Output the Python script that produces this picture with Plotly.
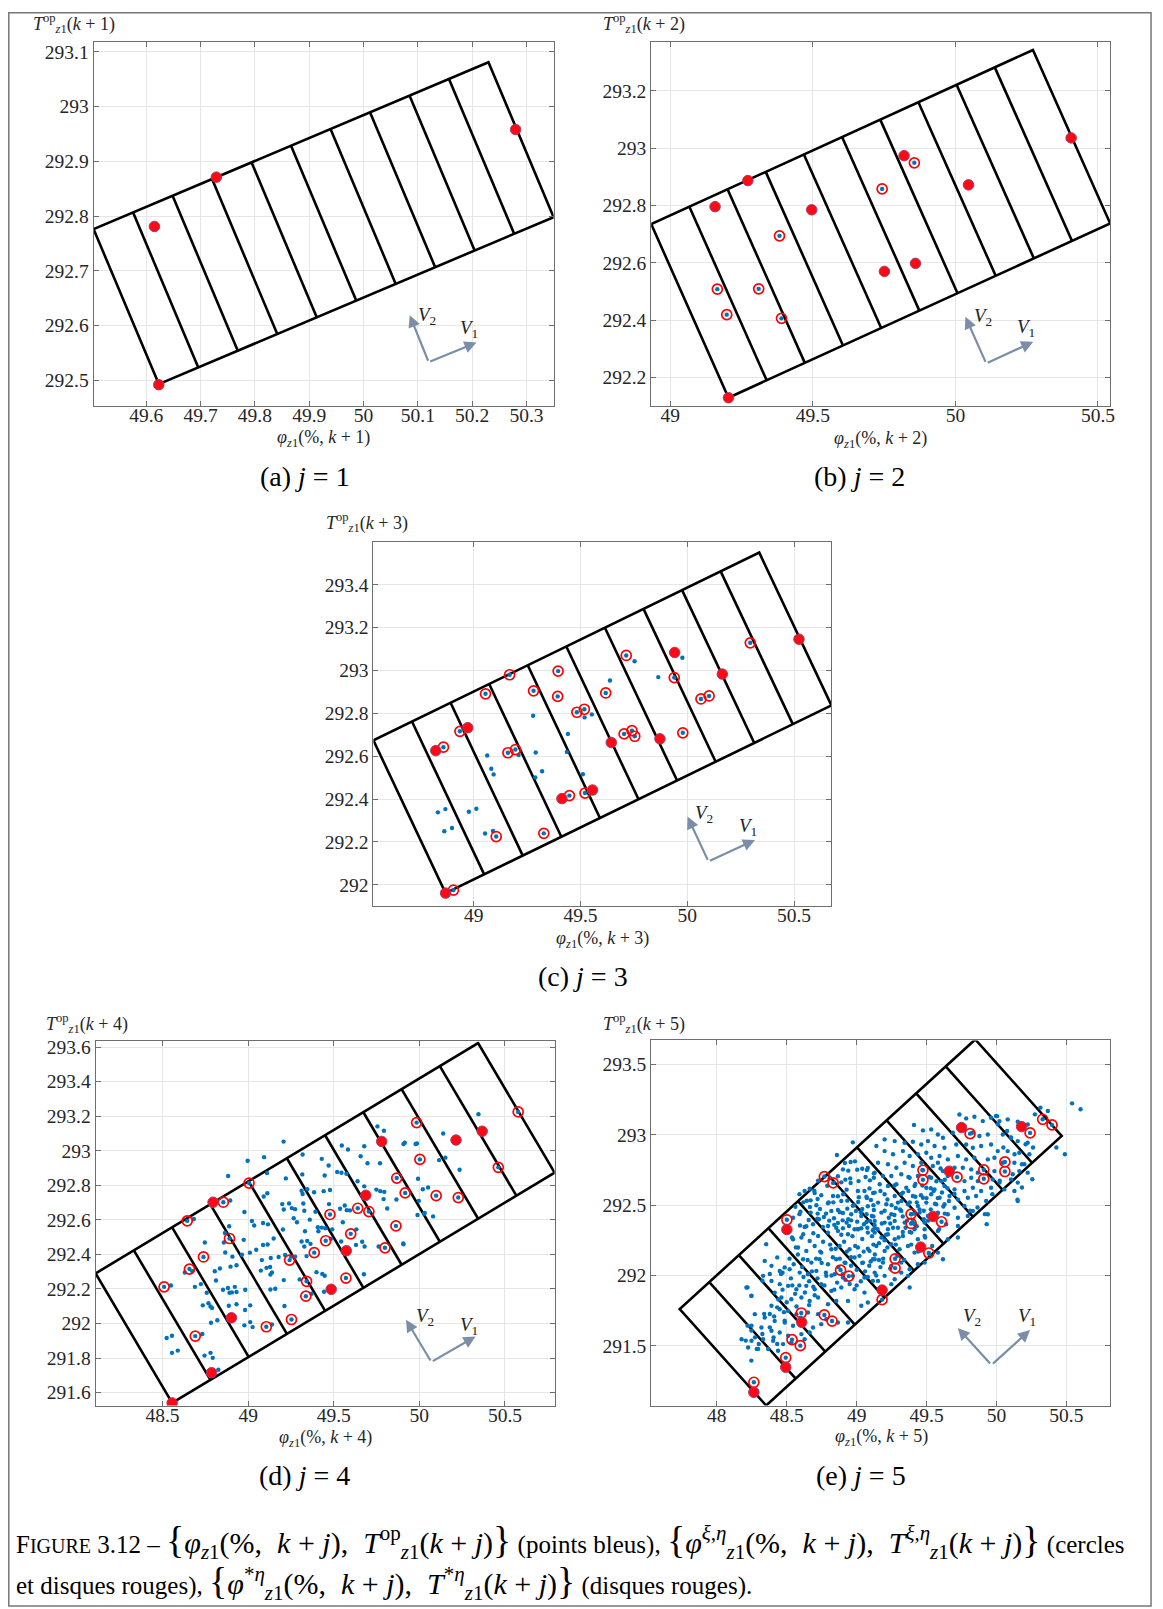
import plotly.graph_objects as go

W, H = 1163, 1609
OFF = 8                      # the page body adds an 8 px margin
FW, FH = W - OFF, H - OFF
N_STRIPS = 10
SERIF = "Liberation Serif, DejaVu Serif, serif"

# ---------------- (a) j = 1 ----------------
a_xrange = [49.503, 50.35]
a_yrange = [292.453, 293.118]
a_xticks = [49.6, 49.7, 49.8, 49.9, 50.0, 50.1, 50.2, 50.3]
a_xlabels = ["49.6", "49.7", "49.8", "49.9", "50", "50.1", "50.2", "50.3"]
a_yticks = [292.5, 292.6, 292.7, 292.8, 292.9, 293.0, 293.1]
a_ylabels = ["292.5", "292.6", "292.7", "292.8", "292.9", "293", "293.1"]
a_box_x = [49.623, 50.350, 49.503]      # bottom corner, end of long side, end of short side
a_box_y = [292.493, 292.798, 292.776]
a_discs = [(49.615, 292.781), (49.729, 292.871), (50.280, 292.958), (49.623, 292.492)]
a_rings = []
a_dots = []
a_arrow_x = [50.120, 50.208, 50.085]    # origin, V1 head, V2 head
a_arrow_y = [292.533, 292.569, 292.619]
a_vlab_x = [50.195, 50.117]             # V1, V2 label centres
a_vlab_y = [292.593, 292.617]

# ---------------- (b) j = 2 ----------------
b_xrange = [48.933, 50.543]
b_yrange = [292.10, 293.371]
b_xticks = [49.0, 49.5, 50.0, 50.5]
b_xlabels = ["49", "49.5", "50", "50.5"]
b_yticks = [292.2, 292.4, 292.6, 292.8, 293.0, 293.2]
b_ylabels = ["292.2", "292.4", "292.6", "292.8", "293", "293.2"]
b_box_x = [49.204, 50.543, 48.933]
b_box_y = [292.129, 292.737, 292.735]
b_discs = [(49.157, 292.796), (49.272, 292.887), (49.496, 292.785), (49.820, 292.974),
           (50.046, 292.872), (50.406, 293.036), (49.751, 292.570), (49.860, 292.598),
           (49.204, 292.129)]
b_rings = [(49.856, 292.949), (49.743, 292.858), (49.383, 292.694), (49.165, 292.508),
           (49.310, 292.509), (49.198, 292.419), (49.390, 292.406)]
b_dots = []
b_arrow_x = [50.108, 50.273, 50.035]
b_arrow_y = [292.249, 292.324, 292.412]
b_vlab_x = [50.249, 50.097]
b_vlab_y = [292.371, 292.412]

# ---------------- (c) j = 3 ----------------
c_xrange = [48.530, 50.675]
c_yrange = [291.902, 293.601]
c_xticks = [49.0, 49.5, 50.0, 50.5]
c_xlabels = ["49", "49.5", "50", "50.5"]
c_yticks = [292.0, 292.2, 292.4, 292.6, 292.8, 293.0, 293.2, 293.4]
c_ylabels = ["292", "292.2", "292.4", "292.6", "292.8", "293", "293.2", "293.4"]
c_box_x = [48.868, 50.675, 48.530]
c_box_y = [291.961, 292.837, 292.674]
c_discs = [(48.822, 292.626), (48.972, 292.733), (49.413, 292.402), (49.556, 292.442),
           (49.644, 292.664), (49.872, 292.681), (49.941, 293.084), (50.164, 292.983),
           (50.523, 293.146), (48.868, 291.961)]
c_rings = [(48.858, 292.642), (48.935, 292.716), (48.905, 291.975), (49.055, 292.891),
           (49.168, 292.980), (49.160, 292.616), (49.195, 292.631), (49.105, 292.225),
           (49.280, 292.905), (49.328, 292.240), (49.395, 292.997), (49.393, 292.879),
           (49.483, 292.805), (49.518, 292.819), (49.448, 292.416), (49.521, 292.428),
           (49.618, 292.895), (49.714, 293.070), (49.704, 292.704), (49.741, 292.719),
           (49.754, 292.693), (49.939, 292.967), (49.979, 292.709), (50.064, 292.867),
           (50.102, 292.881), (50.295, 293.129)]
c_dots = [(48.832, 292.338), (48.867, 292.353), (48.862, 292.250), (48.898, 292.265),
          (48.977, 292.341), (49.012, 292.355), (49.053, 292.239), (49.090, 292.251),
          (49.063, 292.603), (49.082, 292.541), (49.093, 292.515), (49.210, 292.605),
          (49.278, 292.789), (49.290, 292.617), (49.320, 292.530), (49.288, 292.501),
          (49.441, 292.704), (49.436, 292.620), (49.511, 292.516), (49.519, 292.781),
          (49.553, 292.795), (49.638, 292.953), (49.753, 293.043), (49.864, 292.969),
          (49.977, 293.059)]
c_arrow_x = [50.099, 50.317, 50.001]
c_arrow_y = [292.109, 292.209, 292.318]
c_vlab_x = [50.282, 50.079]
c_vlab_y = [292.271, 292.329]

# ---------------- (d) j = 4 ----------------
d_xrange = [48.109, 50.790]
d_yrange = [291.525, 293.633]
d_xticks = [48.5, 49.0, 49.5, 50.0, 50.5]
d_xlabels = ["48.5", "49", "49.5", "50", "50.5"]
d_yticks = [291.6, 291.8, 292.0, 292.2, 292.4, 292.6, 292.8, 293.0, 293.2, 293.4, 293.6]
d_ylabels = ["291.6", "291.8", "292", "292.2", "292.4", "292.6", "292.8", "293",
             "293.2", "293.4", "293.6"]
d_box_x = [48.556, 50.790, 48.109]
d_box_y = [291.540, 292.873, 292.290]
d_discs = [(48.795, 292.702), (48.902, 292.033), (48.786, 291.715), (48.556, 291.540),
           (49.485, 292.198), (49.573, 292.421), (49.687, 292.742), (49.780, 293.054),
           (50.214, 293.062), (50.367, 293.113)]
d_rings = [(48.509, 292.212), (48.657, 292.315), (48.691, 291.927), (48.644, 292.594),
           (48.739, 292.385), (48.855, 292.702), (48.891, 292.492), (49.005, 292.813),
           (49.106, 291.981), (49.253, 292.023), (49.242, 292.367), (49.337, 292.158),
           (49.341, 292.244), (49.386, 292.410), (49.453, 292.479), (49.478, 292.631),
           (49.571, 292.263), (49.599, 292.519), (49.640, 292.667), (49.705, 292.648),
           (49.799, 292.438), (49.863, 292.565), (49.868, 292.842), (49.917, 292.756),
           (49.984, 293.163), (50.003, 292.950), (50.098, 292.740), (50.227, 292.729),
           (50.461, 292.904), (50.577, 293.225)]
d_dots = [
    (49.207, 293.053), (49.093, 292.963), (48.997, 292.942), (48.883, 292.854), (49.110, 292.871),
    (49.220, 292.840), (49.091, 292.735), (49.112, 292.754), (48.895, 292.712), (49.199, 292.691),
    (49.239, 292.695), (49.208, 292.660), (49.255, 292.668), (48.978, 292.645), (48.683, 292.605),
    (49.022, 292.593), (49.035, 292.567), (49.087, 292.582), (49.116, 292.574), (48.889, 292.563),
    (48.864, 292.524), (48.974, 292.484), (49.203, 292.544), (48.747, 292.469), (48.858, 292.469),
    (49.149, 292.492), (49.114, 292.457), (49.087, 292.454), (49.047, 292.427), (48.866, 292.411),
    (48.964, 292.398), (49.010, 292.410), (48.908, 292.387), (49.080, 292.367), (49.132, 292.379),
    (49.178, 292.385), (49.216, 292.396), (49.251, 292.387), (49.107, 292.322), (49.128, 292.327),
    (49.139, 292.295), (49.130, 292.283), (49.074, 292.306), (48.932, 292.337), (48.897, 292.329),
    (48.835, 292.318), (48.805, 292.302), (48.630, 292.295), (48.674, 292.302), (48.724, 292.228),
    (48.689, 292.212), (48.758, 292.178), (48.853, 292.195), (48.882, 292.205), (48.891, 292.178),
    (48.905, 292.180), (48.922, 292.212), (48.932, 292.182), (48.983, 292.195), (49.130, 292.197),
    (49.158, 292.201), (49.208, 292.251), (48.735, 292.105), (48.768, 292.117), (48.780, 292.098),
    (48.789, 292.090), (48.887, 292.103), (48.932, 292.111), (49.012, 292.105), (48.982, 292.078),
    (49.212, 292.101), (48.783, 292.004), (48.820, 292.019), (48.978, 291.989), (49.012, 292.008),
    (49.026, 291.979), (49.139, 291.994), (48.524, 291.916), (48.555, 291.929), (48.732, 291.939),
    (48.555, 291.830), (48.589, 291.843), (48.745, 291.814), (48.780, 291.830), (48.793, 291.801),
    (48.826, 291.732), (48.549, 292.220), (48.812, 292.249),
    (49.755, 293.141), (49.793, 293.116), (49.547, 293.030), (49.583, 293.007), (49.678, 293.026),
    (49.907, 293.039), (49.978, 293.039), (49.318, 292.978), (49.430, 292.953), (49.470, 292.915),
    (49.657, 292.968), (49.697, 292.928), (49.770, 292.928), (49.316, 292.863), (49.447, 292.857),
    (49.520, 292.877), (49.545, 292.873), (49.574, 292.867), (49.639, 292.823), (49.678, 292.794),
    (49.749, 292.775), (49.772, 292.766), (49.795, 292.762), (50.020, 292.777), (49.312, 292.769),
    (49.345, 292.777), (49.318, 292.750), (49.385, 292.760), (49.441, 292.766), (49.478, 292.773),
    (49.791, 292.720), (49.866, 292.718), (49.997, 292.710), (49.322, 292.695), (49.274, 292.662),
    (49.328, 292.653), (49.393, 292.647), (49.472, 292.691), (49.537, 292.664), (49.564, 292.683),
    (49.576, 292.656), (49.595, 292.655), (49.812, 292.666), (49.989, 292.628), (50.028, 292.635),
    (49.266, 292.609), (49.285, 292.586), (49.360, 292.601), (49.553, 292.586), (49.632, 292.545),
    (49.332, 292.534), (49.407, 292.557), (49.430, 292.555), (49.410, 292.534), (49.491, 292.545),
    (49.451, 292.551), (49.312, 292.475), (49.345, 292.478), (49.328, 292.446), (49.364, 292.461),
    (49.483, 292.490), (49.543, 292.475), (49.630, 292.455), (49.666, 292.473), (49.680, 292.446),
    (49.762, 292.446), (49.907, 292.459), (49.274, 292.387), (49.341, 292.390), (49.399, 292.297),
    (49.433, 292.287), (49.447, 292.276), (49.676, 292.285), (49.301, 292.255), (49.443, 292.184),
    (49.468, 292.201), (49.370, 292.172),
    (50.345, 293.212), (50.139, 293.100), (50.115, 292.946), (50.152, 292.960), (50.235, 292.890),
    (50.051, 292.787), (49.915, 293.046), (49.986, 293.042), (49.906, 292.463), (50.031, 292.640),
    (49.992, 292.838), (50.080, 292.620)]
d_arrow_x = [50.070, 50.328, 49.922]
d_arrow_y = [291.777, 291.925, 292.021]
d_vlab_x = [50.291, 50.033]
d_vlab_y = [291.988, 292.037]

# ---------------- (e) j = 5 ----------------
e_xrange = [47.531, 50.813]
e_yrange = [291.077, 293.670]
e_xticks = [48.0, 48.5, 49.0, 49.5, 50.0, 50.5]
e_xlabels = ["48", "48.5", "49", "49.5", "50", "50.5"]
e_yticks = [291.5, 292.0, 292.5, 293.0, 293.5]
e_ylabels = ["291.5", "292", "292.5", "293", "293.5"]
e_box_x = [48.353, 50.466, 47.735]
e_box_y = [291.077, 292.992, 291.762]
e_discs = [(48.265, 291.171), (48.493, 291.349), (48.607, 291.668), (48.501, 292.327),
           (49.182, 291.897), (49.458, 292.202), (49.546, 292.420), (49.662, 292.741),
           (49.750, 293.051), (50.179, 293.058)]
e_rings = [(48.265, 291.242), (48.493, 291.417), (48.538, 291.545), (48.597, 291.502),
           (48.604, 291.734), (48.769, 291.720), (48.824, 291.677), (48.501, 292.396),
           (48.769, 292.703), (48.832, 292.658), (48.885, 292.039), (48.944, 291.996),
           (49.182, 291.829), (49.275, 292.119), (49.275, 292.053), (49.389, 292.436),
           (49.389, 292.370), (49.474, 292.748), (49.474, 292.680), (49.607, 292.382),
           (49.516, 292.160), (49.718, 292.699), (49.811, 293.008), (49.909, 292.751),
           (49.909, 292.687), (50.060, 292.807), (50.060, 292.739), (50.240, 293.013),
           (50.330, 293.110), (50.397, 293.070)]
e_dots = [
    # upper left part of the cloud
    (48.973, 292.946), (48.859, 292.856), (48.916, 292.799), (48.957, 292.806), (48.988, 292.811),
    (48.902, 292.754), (48.940, 292.745), (49.004, 292.752), (49.040, 292.759), (49.073, 292.749),
    (49.080, 292.764), (48.954, 292.690), (48.866, 292.705), (48.807, 292.693), (48.890, 292.662),
    (48.919, 292.681), (48.957, 292.657), (49.014, 292.671), (49.064, 292.700), (49.095, 292.676),
    (49.123, 292.695), (49.123, 292.726), (48.664, 292.617), (48.628, 292.600), (48.700, 292.586),
    (48.747, 292.570), (48.790, 292.638), (48.831, 292.565), (48.866, 292.563), (48.928, 292.610),
    (48.904, 292.577), (49.009, 292.600), (49.056, 292.600), (49.092, 292.619), (49.118, 292.586),
    (49.016, 292.556), (49.073, 292.551), (49.102, 292.537), (48.619, 292.520), (48.671, 292.534),
    (48.721, 292.544), (48.562, 292.489), (48.666, 292.487), (48.712, 292.499), (48.738, 292.473),
    (48.795, 292.513), (48.833, 292.520), (48.890, 292.530), (48.933, 292.532), (48.973, 292.496),
    (49.011, 292.522), (49.040, 292.473), (49.080, 292.492), (49.123, 292.466), (48.598, 292.454),
    (48.671, 292.447), (48.721, 292.440), (48.781, 292.440), (48.819, 292.459), (48.866, 292.466),
    (48.902, 292.444), (48.933, 292.475), (48.961, 292.435), (48.995, 292.459), (49.033, 292.423),
    (49.071, 292.435), (49.109, 292.423), (48.545, 292.411), (48.657, 292.395), (48.719, 292.404),
    (48.766, 292.416), (48.804, 292.390), (48.838, 292.407), (48.866, 292.374), (48.900, 292.392),
    (48.928, 292.376), (48.961, 292.392), (49.004, 292.383), (49.052, 292.364), (49.095, 292.388),
    (49.128, 292.359), (48.595, 292.355), (48.628, 292.345), (48.688, 292.364), (48.759, 292.345),
    (48.795, 292.352), (48.854, 292.340), (48.902, 292.336), (48.945, 292.352), (48.985, 292.329),
    (49.033, 292.336), (49.076, 292.340), (49.116, 292.322),
    # upper right part
    (49.735, 293.144), (49.783, 293.116), (49.842, 293.128), (49.902, 293.097), (49.961, 293.121),
    (50.004, 293.132), (50.021, 293.097), (50.080, 293.109), (50.152, 293.092), (50.223, 293.073),
    (49.410, 293.069), (49.474, 293.031), (49.533, 293.038), (49.581, 293.002), (49.617, 292.979),
    (49.688, 293.014), (49.826, 293.014), (49.878, 292.991), (49.938, 293.002), (50.045, 293.002),
    (50.104, 292.979), (50.152, 292.955), (50.223, 292.943), (49.200, 292.967), (49.272, 292.955),
    (49.343, 292.943), (49.402, 292.950), (49.462, 292.931), (49.510, 292.955), (49.557, 292.920),
    (49.628, 292.908), (49.712, 292.931), (49.783, 292.931), (49.831, 292.908), (49.890, 292.920),
    (49.961, 292.931), (50.009, 292.884), (50.080, 292.884), (50.163, 292.872), (50.235, 292.861),
    (49.141, 292.920), (49.200, 292.884), (49.260, 292.861), (49.331, 292.884), (49.379, 292.849),
    (49.438, 292.861), (49.498, 292.872), (49.533, 292.837), (49.593, 292.849), (49.652, 292.825),
    (49.724, 292.849), (49.783, 292.825), (49.842, 292.837), (49.938, 292.825), (49.985, 292.837),
    (50.045, 292.801), (50.128, 292.801), (50.199, 292.790), (49.153, 292.801), (49.224, 292.790),
    (49.284, 292.766), (49.343, 292.801), (49.402, 292.778), (49.462, 292.801), (49.545, 292.778),
    (49.581, 292.801), (49.617, 292.742), (49.700, 292.766), (49.759, 292.766), (49.819, 292.754),
    (49.866, 292.731), (49.985, 292.742), (50.163, 292.742), (50.223, 292.731), (49.129, 292.731),
    (49.188, 292.707), (49.248, 292.707), (49.319, 292.719), (49.379, 292.695), (49.438, 292.707),
    (49.533, 292.695), (49.605, 292.671), (49.652, 292.707), (49.771, 292.671), (49.819, 292.695),
    (49.866, 292.671), (49.973, 292.683), (50.021, 292.660), (50.104, 292.683), (50.152, 292.660),
    (49.165, 292.648), (49.224, 292.636), (49.284, 292.648), (49.355, 292.624), (49.414, 292.636),
    (49.498, 292.624), (49.557, 292.612), (49.628, 292.636), (49.700, 292.612), (49.771, 292.600),
    (49.831, 292.624), (49.890, 292.600), (49.961, 292.624), (50.056, 292.612), (50.128, 292.600),
    (49.129, 292.589), (49.200, 292.577), (49.272, 292.565), (49.331, 292.589), (49.402, 292.565),
    (49.474, 292.553), (49.533, 292.577), (49.593, 292.553), (49.664, 292.565), (49.724, 292.541),
    (49.795, 292.553), (49.854, 292.565), (49.926, 292.530), (49.153, 292.518), (49.212, 292.506),
    (49.295, 292.518), (49.367, 292.506), (49.438, 292.494), (49.498, 292.518), (49.569, 292.506),
    (49.628, 292.506), (49.700, 292.482), (49.771, 292.494), (49.831, 292.459), (49.938, 292.435),
    (50.152, 292.530), (49.177, 292.447), (49.248, 292.435), (49.319, 292.459), (49.391, 292.435),
    (49.450, 292.447), (49.510, 292.423), (49.581, 292.447), (49.652, 292.435), (49.724, 292.411),
    (49.795, 292.423), (49.129, 292.388), (49.200, 292.376), (49.272, 292.388), (49.343, 292.376),
    (49.414, 292.364), (49.486, 292.376), (49.640, 292.364), (49.724, 292.352), (49.129, 292.340),
    (49.224, 292.329), (49.295, 292.340), (49.414, 292.329), (49.486, 292.329),
    # lower left part
    (48.545, 292.258), (48.605, 292.270), (48.664, 292.246), (48.724, 292.281), (48.795, 292.305),
    (48.866, 292.317), (48.938, 292.293), (49.009, 292.329), (49.080, 292.305), (48.581, 292.199),
    (48.640, 292.175), (48.700, 292.210), (48.747, 292.163), (48.819, 292.187), (48.878, 292.210),
    (48.949, 292.187), (49.009, 292.199), (49.092, 292.175), (48.617, 292.116), (48.676, 292.092),
    (48.735, 292.116), (48.795, 292.080), (48.854, 292.116), (48.914, 292.092), (48.985, 292.128),
    (49.045, 292.092), (49.116, 292.116), (48.343, 292.104), (48.391, 292.069), (48.450, 292.033),
    (48.521, 292.045), (48.593, 292.021), (48.652, 292.009), (48.712, 292.033), (48.783, 291.998),
    (48.842, 292.009), (48.902, 291.986), (48.973, 291.998), (49.056, 291.986), (49.116, 291.962),
    (48.331, 291.998), (48.391, 291.962), (48.450, 291.939), (48.510, 291.927), (48.569, 291.903),
    (48.640, 291.927), (48.700, 291.903), (48.747, 291.939), (48.819, 291.891), (48.890, 291.915),
    (48.985, 291.903), (49.056, 291.879), (48.212, 291.915), (48.248, 291.856), (48.414, 291.879),
    (48.462, 291.844), (48.533, 291.832), (48.605, 291.844), (48.664, 291.820), (48.724, 291.844),
    (48.795, 291.797), (48.854, 291.820), (48.938, 291.820), (49.033, 291.785), (49.080, 291.809),
    (48.391, 291.785), (48.450, 291.761), (48.510, 291.749), (48.569, 291.726), (48.652, 291.738),
    (48.724, 291.726), (48.783, 291.690), (48.866, 291.667), (48.938, 291.667), (48.272, 291.726),
    (48.343, 291.702), (48.414, 291.678), (48.486, 291.667), (48.545, 291.643), (48.617, 291.643),
    (48.688, 291.631), (48.747, 291.655), (48.248, 291.643), (48.319, 291.631), (48.391, 291.608),
    (48.450, 291.596), (48.510, 291.572), (48.605, 291.584), (48.664, 291.596), (48.177, 291.548),
    (48.248, 291.537), (48.331, 291.548), (48.403, 291.537), (48.474, 291.513), (48.533, 291.525),
    (48.628, 291.548), (48.224, 291.489), (48.295, 291.478), (48.367, 291.478), (48.438, 291.466),
    # lower right part
    (49.129, 292.305), (49.177, 292.270), (49.224, 292.293), (49.272, 292.258), (49.331, 292.281),
    (49.391, 292.305), (49.438, 292.258), (49.486, 292.281), (49.581, 292.317), (49.652, 292.258),
    (49.724, 292.270), (49.141, 292.210), (49.200, 292.175), (49.248, 292.222), (49.307, 292.187),
    (49.367, 292.210), (49.414, 292.163), (49.521, 292.151), (49.581, 292.163), (49.617, 292.116),
    (49.129, 292.116), (49.188, 292.092), (49.248, 292.069), (49.319, 292.092), (49.379, 292.045),
    (49.438, 292.080), (49.486, 292.092), (49.129, 292.021), (49.200, 291.998), (49.272, 291.974),
    (49.319, 292.021), (49.367, 291.998), (49.248, 291.939), (49.379, 291.915), (49.153, 291.962),
    # far right, outside the box
    (50.540, 293.223), (50.601, 293.181), (50.489, 292.862), (50.256, 292.684), (50.150, 292.538),
    (50.049, 292.909), (50.102, 292.980), (50.129, 292.862), (50.182, 292.791), (50.208, 292.933),
    (50.275, 293.145), (50.314, 293.193), (50.367, 293.169), (49.996, 293.134), (50.010, 293.074),
    (50.076, 293.027), (49.917, 292.436), (49.930, 292.365), (50.261, 292.909), (50.428, 292.909),
    (49.970, 292.578), (49.864, 292.483), (49.811, 292.460), (50.023, 292.673), (50.116, 292.720),
    (50.182, 292.625),
    # bottom left tail
    (48.220, 291.916), (48.247, 291.857), (48.220, 291.644), (48.247, 291.609), (48.273, 291.561),
    (48.300, 291.514), (48.286, 291.479), (48.247, 291.396), (48.326, 291.585), (48.379, 291.632),
    (48.406, 291.561), (48.432, 291.514), (48.207, 291.538), (48.379, 291.727), (48.432, 291.774),
    (48.485, 291.680), (48.339, 291.727), (48.379, 292.011), (48.326, 291.963), (48.353, 292.223),
    (48.432, 292.129), (48.485, 292.058), (48.459, 292.011), (48.591, 292.578), (48.644, 292.531),
    (48.697, 292.602), (48.724, 292.673), (48.591, 292.436), (48.538, 292.271), (48.565, 292.200),
    (48.618, 292.294),
    # dense core
    (48.78, 292.02), (48.83, 292.13), (48.87, 292.06), (48.91, 292.24), (48.93, 292.17),
    (48.96, 292.07), (48.99, 292.21), (49.02, 292.14), (49.04, 292.26), (49.06, 292.03),
    (49.08, 292.19), (49.11, 292.28), (49.13, 292.15), (49.16, 292.23), (49.18, 292.37),
    (49.21, 292.29), (49.23, 292.41), (49.26, 292.34), (49.28, 292.22), (49.31, 292.47),
    (49.33, 292.31), (49.36, 292.39), (49.38, 292.52), (49.41, 292.44), (49.43, 292.35),
    (49.46, 292.57), (49.48, 292.46), (49.51, 292.39), (49.53, 292.62), (49.56, 292.51),
    (49.58, 292.44), (49.61, 292.59), (49.63, 292.68), (49.66, 292.53), (48.72, 291.98),
    (48.75, 292.09), (48.68, 292.03), (48.63, 291.88), (48.66, 291.96), (48.59, 291.93),
    (48.61, 292.06), (48.56, 291.87), (48.53, 291.98), (48.50, 291.81), (48.47, 291.90),
    (48.86, 291.95), (48.90, 292.01), (48.95, 291.94), (49.00, 292.04), (49.03, 291.96),
    (49.09, 292.07), (49.14, 292.00), (49.19, 292.12), (49.24, 292.05), (49.29, 292.14),
    (49.34, 292.11), (49.39, 292.22), (49.44, 292.17), (49.49, 292.27), (49.54, 292.21),
    (49.59, 292.33), (48.84, 292.36), (48.88, 292.45), (48.94, 292.40), (48.98, 292.50),
    (49.03, 292.45), (49.07, 292.56), (49.12, 292.50), (49.17, 292.60), (49.22, 292.54),
    (49.27, 292.64), (49.32, 292.58), (49.37, 292.70), (49.42, 292.65), (49.47, 292.75),
    (48.80, 292.52), (48.73, 292.40), (48.69, 292.30), (48.64, 292.35), (48.58, 292.15),
    (48.55, 292.08),
    (48.71, 292.12), (48.76, 292.24), (48.82, 292.00), (48.85, 292.19), (48.89, 292.29),
    (48.92, 292.09), (48.97, 292.28), (49.01, 292.33), (49.05, 292.17), (49.07, 292.38),
    (49.10, 292.10), (49.12, 292.42), (49.15, 292.33), (49.17, 292.06), (49.20, 292.46),
    (49.22, 292.20), (49.25, 292.50), (49.27, 292.43), (49.30, 292.27), (49.32, 292.53),
    (49.35, 292.34), (49.37, 292.60), (49.40, 292.38), (49.42, 292.56), (49.45, 292.47),
    (49.47, 292.64), (49.50, 292.55), (49.52, 292.70), (49.55, 292.60), (49.57, 292.67),
    (49.60, 292.76), (49.62, 292.49), (49.65, 292.62), (49.68, 292.72), (49.70, 292.58),
    (48.62, 291.99), (48.65, 292.11), (48.69, 291.92), (48.74, 292.17), (48.77, 291.93),
    (48.81, 292.22), (48.84, 291.90), (48.88, 292.12), (48.92, 291.97), (48.96, 292.13),
    (49.00, 291.93), (49.04, 292.09), (49.08, 291.99), (49.12, 292.22), (49.16, 292.11),
    (49.20, 292.25), (49.24, 292.37), (49.28, 292.48), (49.33, 292.42), (49.38, 292.31),
    (49.43, 292.52), (49.48, 292.40), (49.53, 292.47), (49.58, 292.55), (49.63, 292.44),
    (48.57, 291.78), (48.60, 291.70), (48.66, 291.79), (48.70, 291.86), (48.54, 291.93),
    (48.48, 291.74), (48.44, 291.83), (48.41, 291.71), (48.52, 292.12), (48.47, 292.02)]
e_arrow_x = [49.964, 50.240, 49.723]
e_arrow_y = [291.365, 291.613, 291.628]
e_vlab_x = [50.216, 49.824]
e_vlab_y = [291.703, 291.703]

sub_captions = ["(a) <i>j</i> = 1", "(b) <i>j</i> = 2", "(c) <i>j</i> = 3",
                "(d) <i>j</i> = 4", "(e) <i>j</i> = 5"]


def pxx(v):
    return (v - OFF) / FW


def pxy(v):
    return 1 - (v - OFF) / FH


panels = [
    dict(xr=a_xrange, yr=a_yrange, xt=a_xticks, xl=a_xlabels, yt=a_yticks, yl=a_ylabels,
         bx=a_box_x, by=a_box_y, discs=a_discs, rings=a_rings, dots=a_dots,
         ax_=a_arrow_x, ay_=a_arrow_y, lx=a_vlab_x, ly=a_vlab_y,
         dom=(94, 556, 38, 403), ytitle=(31, 20), xtitle=(325, 436), cap=(306, 474), j=1),
    dict(xr=b_xrange, yr=b_yrange, xt=b_xticks, xl=b_xlabels, yt=b_yticks, yl=b_ylabels,
         bx=b_box_x, by=b_box_y, discs=b_discs, rings=b_rings, dots=b_dots,
         ax_=b_arrow_x, ay_=b_arrow_y, lx=b_vlab_x, ly=b_vlab_y,
         dom=(654, 1115, 38, 403), ytitle=(604, 20), xtitle=(884, 437), cap=(863, 474), j=2),
    dict(xr=c_xrange, yr=c_yrange, xt=c_xticks, xl=c_xlabels, yt=c_yticks, yl=c_ylabels,
         bx=c_box_x, by=c_box_y, discs=c_discs, rings=c_rings, dots=c_dots,
         ax_=c_arrow_x, ay_=c_arrow_y, lx=c_vlab_x, ly=c_vlab_y,
         dom=(375, 835, 539, 904), ytitle=(325, 520), xtitle=(605, 938), cap=(586, 975), j=3),
    dict(xr=d_xrange, yr=d_yrange, xt=d_xticks, xl=d_xlabels, yt=d_yticks, yl=d_ylabels,
         bx=d_box_x, by=d_box_y, discs=d_discs, rings=d_rings, dots=d_dots,
         ax_=d_arrow_x, ay_=d_arrow_y, lx=d_vlab_x, ly=d_vlab_y,
         dom=(96, 557, 1040, 1405), ytitle=(44, 1022), xtitle=(327, 1438), cap=(306, 1475), j=4),
    dict(xr=e_xrange, yr=e_yrange, xt=e_xticks, xl=e_xlabels, yt=e_yticks, yl=e_ylabels,
         bx=e_box_x, by=e_box_y, discs=e_discs, rings=e_rings, dots=e_dots,
         ax_=e_arrow_x, ay_=e_arrow_y, lx=e_vlab_x, ly=e_vlab_y,
         dom=(654, 1115, 1039, 1405), ytitle=(604, 1022), xtitle=(885, 1437), cap=(865, 1475), j=5),
]

fig = go.Figure()
annotations = []
ARROW = "#7a8fa7"
TXT = "#262626"

for i, p in enumerate(panels):
    n = i + 1
    xa = "x" if n == 1 else f"x{n}"
    ya = "y" if n == 1 else f"y{n}"

    # parallelogram split into strips along the long side
    bx, by = p["bx"], p["by"]
    ux, uy = bx[1] - bx[0], by[1] - by[0]
    vx, vy = bx[2] - bx[0], by[2] - by[0]
    lx = [bx[0], bx[1], bx[1] + vx, bx[2], bx[0], None]
    ly = [by[0], by[1], by[1] + vy, by[2], by[0], None]
    for k in range(1, N_STRIPS):
        sx, sy = bx[0] + ux * k / N_STRIPS, by[0] + uy * k / N_STRIPS
        lx += [sx, sx + vx, None]
        ly += [sy, sy + vy, None]
    fig.add_trace(go.Scatter(x=lx, y=ly, mode="lines", xaxis=xa, yaxis=ya,
                             line=dict(color="black", width=2.6), hoverinfo="skip"))

    pts = p["dots"] + p["rings"] + p["discs"]
    if pts:
        fig.add_trace(go.Scatter(x=[q[0] for q in pts], y=[q[1] for q in pts], mode="markers",
                                 xaxis=xa, yaxis=ya,
                                 marker=dict(size=4.4, color="#0072BD")))
    if p["rings"]:
        fig.add_trace(go.Scatter(x=[q[0] for q in p["rings"]], y=[q[1] for q in p["rings"]],
                                 mode="markers", xaxis=xa, yaxis=ya,
                                 marker=dict(symbol="circle-open", size=10, color="red",
                                             line=dict(width=1.7))))
    fig.add_trace(go.Scatter(x=[q[0] for q in p["discs"]], y=[q[1] for q in p["discs"]],
                             mode="markers", xaxis=xa, yaxis=ya,
                             marker=dict(size=10.5, color="#ff0a14",
                                         line=dict(color="#a33a6e", width=1))))

    l, r, t, b = p["dom"]
    axis_common = dict(showgrid=True, gridcolor="#e6e6e6", gridwidth=1, zeroline=False,
                       showline=True, linecolor="#6e6e6e", linewidth=1, mirror="ticks",
                       ticks="inside", ticklen=5, tickcolor="#6e6e6e",
                       tickfont=dict(family=SERIF, size=19.5, color=TXT))
    fig.layout[xa.replace("x", "xaxis")] = dict(
        domain=[pxx(l), pxx(r)], range=p["xr"], tickvals=p["xt"], ticktext=p["xl"],
        anchor=ya, ticklabelstandoff=-8, **axis_common)
    fig.layout[ya.replace("y", "yaxis")] = dict(
        domain=[pxy(b), pxy(t)], range=p["yr"], tickvals=p["yt"], ticktext=p["yl"],
        anchor=xa, **axis_common)

    # V1 / V2 arrows
    axx, ayy = p["ax_"], p["ay_"]
    for h in (1, 2):
        annotations.append(dict(x=axx[h], y=ayy[h], ax=axx[0], ay=ayy[0], xref=xa, yref=ya,
                                axref=xa, ayref=ya, text="", showarrow=True, arrowhead=2,
                                arrowsize=1.1, arrowwidth=2.2, arrowcolor=ARROW))
    for h, lab in ((0, "1"), (1, "2")):
        annotations.append(dict(x=p["lx"][h], y=p["ly"][h], xref=xa, yref=ya,
                                text=f"<i>V</i><sub>{lab}</sub>", showarrow=False,
                                xanchor="center", yanchor="middle",
                                font=dict(family=SERIF, size=19, color="#222")))

    j = p["j"]
    annotations.append(dict(x=pxx(p["ytitle"][0]), y=pxy(p["ytitle"][1]), xref="paper",
                            yref="paper", xanchor="left", yanchor="middle", showarrow=False,
                            text=f"<i>T</i><sup>op</sup><sub><i>z</i>1</sub>(<i>k</i> + {j})",
                            font=dict(family=SERIF, size=18, color=TXT)))
    annotations.append(dict(x=pxx(p["xtitle"][0]), y=pxy(p["xtitle"][1]), xref="paper",
                            yref="paper", xanchor="center", yanchor="middle", showarrow=False,
                            text=f"<i>φ</i><sub><i>z</i>1</sub>(%, <i>k</i> + {j})",
                            font=dict(family=SERIF, size=18, color=TXT)))
    annotations.append(dict(x=pxx(p["cap"][0]), y=pxy(p["cap"][1]), xref="paper",
                            yref="paper", xanchor="center", yanchor="middle", showarrow=False,
                            text=sub_captions[i],
                            font=dict(family=SERIF, size=28, color="black")))

M = "<span style='font-size:30px'>"
E = "</span>"
SP = "\u2002"
BR = "<span style='font-size:38px'>{</span>"
BRC = "<span style='font-size:38px'>}</span>"
line1 = ("F<span style='font-size:20px'>IGURE</span> 3.12 – " + BR + M +
         "<i>φ</i><sub><i>z</i>1</sub>(%," + SP + "<i>k</i> + <i>j</i>)," + SP +
         "<i>T</i><sup>op</sup><sub><i>z</i>1</sub>(<i>k</i> + <i>j</i>)" + E + BRC +
         " (points bleus), " + BR + M +
         "<i>φ</i><sup><i>ξ</i>,<i>η</i></sup><sub><i>z</i>1</sub>(%," + SP +
         "<i>k</i> + <i>j</i>)," + SP +
         "<i>T</i><sup><i>ξ</i>,<i>η</i></sup><sub><i>z</i>1</sub>(<i>k</i> + <i>j</i>)" +
         E + BRC + " (cercles")
line2 = ("et disques rouges), " + BR + M +
         "<i>φ</i><sup>*<i>η</i></sup><sub><i>z</i>1</sub>(%," + SP + "<i>k</i> + <i>j</i>)," + SP +
         "<i>T</i><sup>*<i>η</i></sup><sub><i>z</i>1</sub>(<i>k</i> + <i>j</i>)" +
         E + BRC + " (disques rouges).")
annotations.append(dict(x=pxx(14), y=pxy(1541), xref="paper", yref="paper", xanchor="left",
                        yanchor="middle", showarrow=False, text=line1,
                        font=dict(family=SERIF, size=25, color="black")))
annotations.append(dict(x=pxx(14), y=pxy(1582), xref="paper", yref="paper", xanchor="left",
                        yanchor="middle", showarrow=False, text=line2,
                        font=dict(family=SERIF, size=25, color="black")))

fig.update_layout(
    width=FW, height=FH, margin=dict(l=0, r=0, t=0, b=0),
    paper_bgcolor="white", plot_bgcolor="white", showlegend=False,
    annotations=annotations,
    shapes=[dict(type="rect", xref="paper", yref="paper", x0=0.8 / FW, x1=pxx(1156),
                 y0=pxy(1606), y1=1 - 0.8 / FH, line=dict(color="#777", width=1.5))],
)

fig.write_html("out.html")
